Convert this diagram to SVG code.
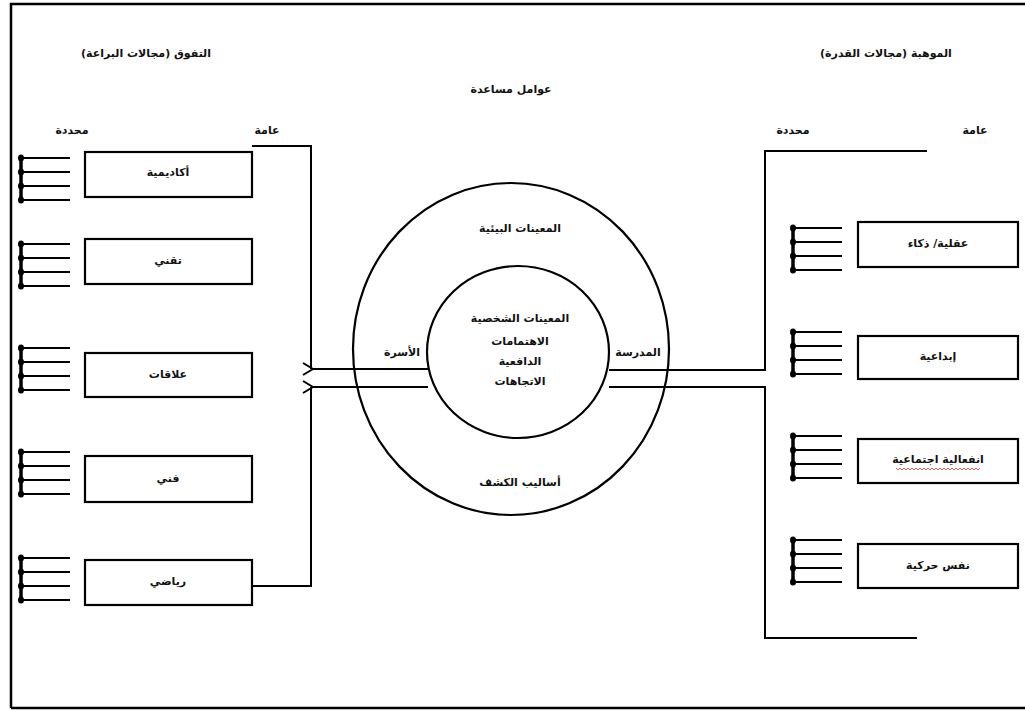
<svg xmlns="http://www.w3.org/2000/svg" width="1025" height="711" viewBox="0 0 1025 711">
<defs>
<style>
.t{font-family:"DejaVu Sans",sans-serif;font-size:11px;font-weight:bold;fill:#111;text-anchor:middle;direction:rtl}
.box{fill:#fff;stroke:#000;stroke-width:2.2}
.ln{fill:none;stroke:#000;stroke-width:2}
.pin{stroke:#000;stroke-width:2.2}
.hd{fill:#000}
</style>
<marker id="ah" markerWidth="14" markerHeight="14" refX="1" refY="7" orient="auto" markerUnits="userSpaceOnUse">
<path d="M11,1 L1,7 L11,13" fill="none" stroke="#000" stroke-width="2"/>
</marker>
<g id="pins">
<line x1="21" y1="0" x2="21" y2="42" stroke="#000" stroke-width="3.5"/>
<line class="pin" x1="21" y1="0" x2="70" y2="0"/>
<line class="pin" x1="21" y1="14" x2="70" y2="14"/>
<line class="pin" x1="21" y1="28" x2="70" y2="28"/>
<line class="pin" x1="21" y1="42" x2="70" y2="42"/>
<ellipse class="hd" cx="21" cy="0" rx="3" ry="3.5"/>
<ellipse class="hd" cx="21" cy="14" rx="3" ry="3.5"/>
<ellipse class="hd" cx="21" cy="28" rx="3" ry="3.5"/>
<ellipse class="hd" cx="21" cy="42" rx="3" ry="3.5"/>
</g>
</defs>
<rect x="0" y="0" width="1025" height="711" fill="#fff"/>
<path d="M11,708 L11,4 L1030,4 M11,708 L1030,708" fill="none" stroke="#000" stroke-width="2.5"/>

<g id="titles">
<text class="t" x="146" y="57">التفوق (مجالات البراعة)</text>
<text class="t" x="886" y="57">الموهبة (مجالات القدرة)</text>
<text class="t" x="511" y="93">عوامل مساعدة</text>
<text class="t" x="72" y="134">محددة</text>
<text class="t" x="267" y="134">عامة</text>
<text class="t" x="793" y="134">محددة</text>
<text class="t" x="975" y="134">عامة</text>
</g>

<g id="connectors">
<path class="ln" d="M252,146 L311,146 L311,369"/>
<path class="ln" d="M311,387 L311,586 L252,586"/>
<line class="ln" x1="428" y1="369" x2="313" y2="369" marker-end="url(#ah)"/>
<line class="ln" x1="428" y1="387" x2="313" y2="387" marker-end="url(#ah)"/>
<path class="ln" d="M609,370 L765,370 L765,151 L927,151"/>
<path class="ln" d="M609,387 L765,387 L765,638 L917,638"/>
</g>

<g id="circles">
<ellipse cx="511" cy="349" rx="158" ry="166" fill="none" stroke="#000" stroke-width="2.2"/>
<ellipse cx="518" cy="352" rx="91" ry="86" fill="none" stroke="#000" stroke-width="2.2"/>
<text class="t" x="520" y="232">المعينات البيئية</text>
<text class="t" x="520" y="322">المعينات الشخصية</text>
<text class="t" x="520" y="345">الاهتمامات</text>
<text class="t" x="520" y="365">الدافعية</text>
<text class="t" x="520" y="385">الاتجاهات</text>
<text class="t" x="402" y="356">الأسرة</text>
<text class="t" x="638" y="356">المدرسة</text>
<text class="t" x="520" y="486">أساليب الكشف</text>
</g>

<g id="left-1"><use href="#pins" y="158"/><rect class="box" x="85" y="152" width="167" height="45"/><text class="t" x="168" y="176">أكاديمية</text></g>
<g id="left-2"><use href="#pins" y="244"/><rect class="box" x="85" y="239" width="167" height="45"/><text class="t" x="168" y="264">تقني</text></g>
<g id="left-3"><use href="#pins" y="348"/><rect class="box" x="85" y="353" width="167" height="44"/><text class="t" x="168" y="378">علاقات</text></g>
<g id="left-4"><use href="#pins" y="452"/><rect class="box" x="85" y="456" width="167" height="46"/><text class="t" x="168" y="482">فني</text></g>
<g id="left-5"><use href="#pins" y="558"/><rect class="box" x="85" y="560" width="167" height="45"/><text class="t" x="168" y="585">رياضي</text></g>

<g id="right-1"><use href="#pins" x="772" y="228"/><rect class="box" x="858" y="222" width="160" height="45"/><text class="t" x="938" y="247">عقلية/ ذكاء</text></g>
<g id="right-2"><use href="#pins" x="772" y="332"/><rect class="box" x="858" y="336" width="160" height="43"/><text class="t" x="938" y="360">إبداعية</text></g>
<g id="right-3"><use href="#pins" x="772" y="436"/><rect class="box" x="858" y="439" width="160" height="44"/><text class="t" x="938" y="463">انفعالية اجتماعية</text>
<path d="M896,468 l2,2 l2,-2 l2,2 l2,-2 l2,2 l2,-2 l2,2 l2,-2 l2,2 l2,-2 l2,2 l2,-2 l2,2 l2,-2 l2,2 l2,-2 l2,2 l2,-2 l2,2 l2,-2 l2,2 l2,-2 l2,2 l2,-2 l2,2 l2,-2 l2,2 l2,-2 l2,2 l2,-2 l2,2 l2,-2 l2,2 l2,-2 l2,2 l2,-2 l2,2 l2,-2 l2,2 l2,-2 l2,2 l2,-2" fill="none" stroke="#d33" stroke-width="0.8"/></g>
<g id="right-4"><use href="#pins" x="772" y="540"/><rect class="box" x="858" y="544" width="160" height="44"/><text class="t" x="938" y="569">نفس حركية</text></g>
</svg>
